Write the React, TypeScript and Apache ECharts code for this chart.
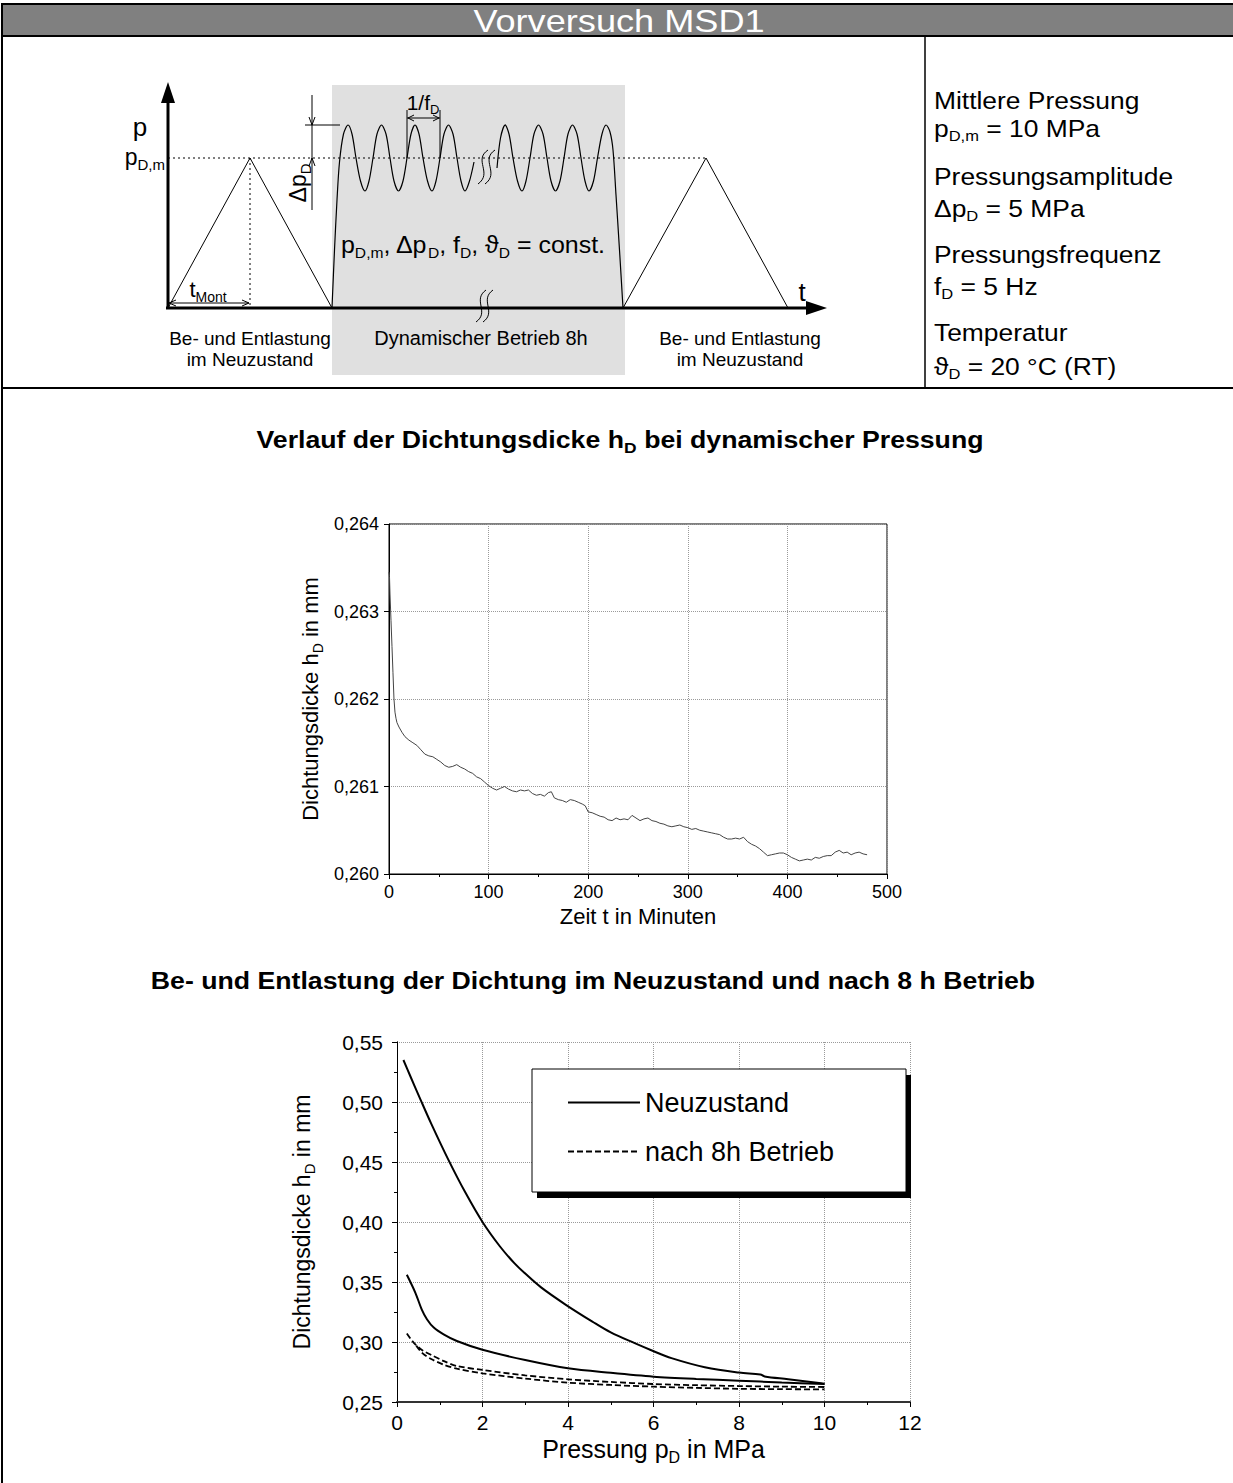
import React, { useEffect, useRef } from 'react';
import * as echarts from 'echarts';

const FONT = '"Liberation Sans", Arial, Helvetica, sans-serif';

// ---------- Chart 1: Verlauf der Dichtungsdicke (time in minutes, thickness in mm)
const timeMin = [0, 0.5, 1, 2, 3, 4, 5, 6, 7, 8, 10, 13, 16, 20, 24, 28, 32, 36, 40, 44, 48, 52, 56, 60, 64, 68, 72, 76, 80, 84, 88, 92, 96, 100, 104, 108, 112, 116, 120, 124, 128, 132, 136, 140, 144, 148, 152, 156, 160, 163, 166, 170, 174, 178, 182, 186, 190, 194, 197, 200, 204, 208, 212, 216, 220, 224, 228, 232, 236, 240, 244, 248, 252, 256, 260, 264, 268, 272, 276, 280, 284, 288, 292, 296, 300, 304, 308, 312, 316, 320, 324, 328, 332, 336, 340, 344, 348, 352, 356, 360, 364, 368, 372, 376, 380, 384, 388, 392, 396, 400, 404, 408, 412, 416, 420, 424, 428, 432, 436, 440, 444, 448, 452, 456, 460, 464, 468, 472, 476, 480];
const thicknessDyn = [0.26345, 0.2634, 0.2632, 0.2629, 0.2626, 0.2623, 0.262, 0.26185, 0.26178, 0.26173, 0.26168, 0.26162, 0.26157, 0.26153, 0.2615, 0.26147, 0.26142, 0.26137, 0.26135, 0.26134, 0.26131, 0.26128, 0.26124, 0.26122, 0.26123, 0.26125, 0.26122, 0.2612, 0.26117, 0.26115, 0.26111, 0.26109, 0.26105, 0.26101, 0.26098, 0.26096, 0.26098, 0.261, 0.26097, 0.26095, 0.26094, 0.26096, 0.26095, 0.26096, 0.26092, 0.2609, 0.26091, 0.26089, 0.26093, 0.26094, 0.26087, 0.26085, 0.26084, 0.26082, 0.26085, 0.26084, 0.26082, 0.2608, 0.26078, 0.26071, 0.2607, 0.26068, 0.26066, 0.26065, 0.26062, 0.26061, 0.26064, 0.26062, 0.26063, 0.26062, 0.26067, 0.26064, 0.26061, 0.26063, 0.26064, 0.26061, 0.2606, 0.26058, 0.26057, 0.26055, 0.26054, 0.26055, 0.26056, 0.26054, 0.26053, 0.26051, 0.26052, 0.2605, 0.26049, 0.26048, 0.26047, 0.26046, 0.26045, 0.26042, 0.2604, 0.2604, 0.26041, 0.2604, 0.26042, 0.26037, 0.26034, 0.26032, 0.26029, 0.26025, 0.26021, 0.26022, 0.26023, 0.26024, 0.26024, 0.26022, 0.26019, 0.26017, 0.26015, 0.26016, 0.26017, 0.26016, 0.26019, 0.26018, 0.2602, 0.26021, 0.26021, 0.26025, 0.26027, 0.26024, 0.26025, 0.26022, 0.26024, 0.26025, 0.26023, 0.26022];

// ---------- Chart 2: Be- und Entlastung (pressure in MPa, thickness in mm)
const newLoadP = [0.15, 0.3, 0.55, 0.8, 1.2, 1.6, 2.0, 2.4, 2.75, 3.0, 3.37, 3.95, 4.57, 5.0, 5.56, 5.99, 6.42, 7.2, 8.0, 8.5, 8.6, 9.15, 9.92, 10.0];
const newLoadH = [0.535, 0.5225, 0.502, 0.482, 0.452, 0.4245, 0.4, 0.38, 0.3655, 0.357, 0.3455, 0.331, 0.317, 0.308, 0.299, 0.2925, 0.2866, 0.279, 0.2745, 0.273, 0.2713, 0.269, 0.2656, 0.2652];
const newUnloadP = [0.23, 0.43, 0.58, 0.7, 0.86, 1.09, 1.4, 2.0, 3.0, 4.0, 5.0, 6.0, 7.0, 8.0, 9.0, 10.0];
const newUnloadH = [0.356, 0.341, 0.327, 0.319, 0.312, 0.3064, 0.3008, 0.2935, 0.285, 0.2781, 0.2743, 0.2711, 0.2692, 0.2678, 0.2662, 0.265];
const oldLoadP = [0.23, 0.4, 0.6, 0.8, 1.1, 1.4, 2.0, 3.0, 4.0, 5.0, 6.0, 7.0, 8.0, 9.0, 10.0];
const oldLoadH = [0.307, 0.299, 0.293, 0.2892, 0.284, 0.28, 0.2767, 0.2722, 0.2689, 0.2667, 0.265, 0.264, 0.2633, 0.2628, 0.2625];
const oldUnloadP = [0.45, 0.6, 0.8, 1.1, 1.4, 2.0, 3.0, 4.0, 5.0, 6.0, 7.0, 8.0, 9.0, 10.0];
const oldUnloadH = [0.297, 0.2905, 0.2858, 0.281, 0.2778, 0.2739, 0.2695, 0.2661, 0.2642, 0.2628, 0.2618, 0.261, 0.2607, 0.2605];

const legendNames = ['Neuzustand', 'nach 8h Betrieb'];

const paramLines = [
  'Mittlere Pressung',
  '{n|p}{s|D,m}{n| = 10 MPa}',
  'Pressungsamplitude',
  '{n|Δp}{s|D}{n| = 5 MPa}',
  'Pressungsfrequenz',
  '{n|f}{s|D}{n| = 5 Hz}',
  'Temperatur',
  '{n|ϑ}{s|D}{n| = 20 °C (RT)}',
];

const pairs = (xs: number[], ys: number[]) => xs.map((x, i) => [x, ys[i]]);
const comma = (d: number) => (v: number) => v.toFixed(d).replace('.', ',');

function rt(x: number, y: number, text: string, size: number, opt: any = {}) {
  const sub = Math.round(size * 0.64);
  const fill = opt.fill || '#000';
  const fw = opt.bold ? 'bold' : 'normal';
  return {
    type: 'text',
    x,
    y,
    rotation: opt.rotation || 0,
    scaleX: opt.sx || 1,
    z: opt.z ?? 6,
    style: {
      text,
      x: 0,
      y: 0,
      fill,
      fontSize: size,
      fontFamily: FONT,
      fontWeight: fw,
      align: opt.align || 'left',
      verticalAlign: 'middle',
      rich: {
        n: { fontSize: size, fontFamily: FONT, fontWeight: fw, lineHeight: Math.round(size * 1.3), fill },
        s: { fontSize: sub, fontFamily: FONT, fontWeight: fw, lineHeight: sub, verticalAlign: 'bottom', fill },
      },
    },
  };
}

function axisRich(size: number) {
  const sub = Math.round(size * 0.64);
  return {
    n: { fontSize: size, fontFamily: FONT, lineHeight: Math.round(size * 1.3), color: '#000' },
    s: { fontSize: sub, fontFamily: FONT, lineHeight: sub, verticalAlign: 'bottom', color: '#000' },
  };
}

const ln = (x1: number, y1: number, x2: number, y2: number, w = 1, dash?: number[], z = 4) => ({
  type: 'line', z, shape: { x1, y1, x2, y2 }, style: { stroke: '#000', lineWidth: w, lineDash: dash || null },
});
const pl = (points: number[][], w = 1, smooth = 0, z = 4) => ({
  type: 'polyline', z, shape: { points, smooth }, style: { stroke: '#000', lineWidth: w, fill: null },
});
const bz = (x1: number, y1: number, x2: number, y2: number, c1x: number, c1y: number, c2x: number, c2y: number) => ({
  type: 'bezierCurve', z: 5,
  shape: { x1, y1, x2, y2, cpx1: c1x, cpy1: c1y, cpx2: c2x, cpy2: c2y },
  style: { stroke: '#000', lineWidth: 1, fill: null },
});

function buildGraphic() {
  const els: any[] = [];
  // table frame
  els.push({ type: 'rect', z: 1, shape: { x: 2, y: 4, width: 1240, height: 32 }, style: { fill: '#808080', stroke: '#000', lineWidth: 2 } });
  els.push(ln(2, 4, 2, 1490, 2));
  els.push(ln(925, 36, 925, 388, 1.5));
  els.push(ln(2, 388, 1240, 388, 2));
  els.push(rt(619, 21, 'Vorversuch MSD1', 32, { align: 'center', fill: '#fff', sx: 1.13 }));

  // schematic diagram
  els.push({ type: 'rect', z: 1, shape: { x: 332, y: 85, width: 293, height: 290 }, style: { fill: '#e0e0e0' } });
  els.push(ln(168, 158, 706, 158, 1, [2, 3], 3));
  els.push(ln(250, 158, 250, 306, 1, [2, 3], 3));
  els.push(pl([[168, 308], [250, 158], [332, 308]]));
  els.push(pl([[623, 308], [706, 158], [788, 308]]));
  const waveL = [[332, 308], [334.5, 250], [337, 200], [339.5, 162], [343.5, 134], [348, 125], [352, 134], [356, 158], [360.5, 181], [365, 191], [369, 181], [373, 158], [377, 134], [381.5, 125], [386, 134], [390, 158], [394, 181], [398.5, 191], [403, 181], [407, 158], [411, 134], [415, 125], [419, 134], [423, 158], [427.5, 181], [432, 191], [436, 181], [440, 158], [444, 134], [448.5, 125], [453, 134], [457, 158], [461, 181], [465, 191], [469.5, 181], [474, 162]];
  const waveR = [[497, 168], [500.5, 138], [505, 125], [509, 134], [513, 158], [517.5, 181], [522, 191], [526, 181], [530, 158], [534, 134], [538.5, 125], [543, 134], [547, 158], [551, 181], [555.5, 191], [560, 181], [564, 158], [568, 134], [572.5, 125], [577, 134], [581, 158], [585, 181], [589, 191], [593.5, 181], [597.5, 158], [602, 134], [606, 125], [610, 132], [613, 150], [616, 195], [619.5, 250], [623, 308]];
  els.push(pl(waveL, 1.2, 0.3));
  els.push(pl(waveR, 1.2, 0.3));
  // breaks
  els.push(bz(478, 184, 488, 150, 493, 173, 473, 160));
  els.push(bz(485, 184, 495, 150, 500, 173, 480, 160));
  els.push(bz(476, 322, 486, 290, 490, 312, 472, 300));
  els.push(bz(483, 322, 493, 290, 497, 312, 479, 300));
  // axes
  els.push(ln(168, 309, 168, 100, 3));
  els.push({ type: 'polygon', z: 5, shape: { points: [[168, 82], [161, 103], [175, 103]] }, style: { fill: '#000' } });
  els.push(ln(166, 308, 808, 308, 3));
  els.push({ type: 'polygon', z: 5, shape: { points: [[827, 308], [806, 301], [806, 315]] }, style: { fill: '#000' } });
  // t_Mont arrow
  els.push(ln(169, 303, 249, 303));
  els.push(pl([[176, 300], [169, 303], [176, 306]]));
  els.push(pl([[242, 300], [249, 303], [242, 306]]));
  // delta p
  els.push(ln(312, 95, 312, 210));
  els.push(ln(305, 125, 340, 125));
  els.push(pl([[309, 117], [312, 125], [315, 117]]));
  els.push(pl([[309, 166], [312, 158], [315, 166]]));
  // 1/f
  els.push(ln(407, 110, 407, 158));
  els.push(ln(440, 110, 440, 158));
  els.push(ln(407, 118, 440, 118));
  els.push(pl([[414, 115], [408, 118], [414, 121]]));
  els.push(pl([[433, 115], [439, 118], [433, 121]]));
  // labels
  els.push(rt(140, 127, 'p', 26, { align: 'center' }));
  els.push(rt(165, 157, '{n|p}{s|D,m}', 23, { align: 'right' }));
  els.push(rt(208, 289, '{n|t}{s|Mont}', 22, { align: 'center' }));
  els.push(rt(298, 183, '{n|Δp}{s|D}', 23, { align: 'center', rotation: Math.PI / 2 }));
  els.push(rt(423, 102, '{n|1/f}{s|D}', 21, { align: 'center' }));
  els.push(rt(341, 245, '{n|p}{s|D,m}{n|, Δp}{s|D}{n|, f}{s|D}{n|, ϑ}{s|D}{n| = const.}', 24, { sx: 1.04 }));
  els.push(rt(802, 292, 't', 26, { align: 'center' }));
  els.push(rt(250, 338, 'Be- und Entlastung', 19, { align: 'center' }));
  els.push(rt(250, 359, 'im Neuzustand', 19, { align: 'center' }));
  els.push(rt(481, 338, 'Dynamischer Betrieb 8h', 20, { align: 'center' }));
  els.push(rt(740, 338, 'Be- und Entlastung', 19, { align: 'center' }));
  els.push(rt(740, 359, 'im Neuzustand', 19, { align: 'center' }));

  // parameter panel
  const py = [100, 128, 176, 208, 254, 286, 332, 366];
  paramLines.forEach((t, i) => els.push(rt(934, py[i], t, 24, { sx: 1.1 })));

  // section titles
  els.push(rt(620, 440, '{n|Verlauf der Dichtungsdicke h}{s|D}{n| bei dynamischer Pressung}', 23, { align: 'center', bold: true, sx: 1.16 }));
  els.push(rt(593, 981, 'Be- und Entlastung der Dichtung im Neuzustand und nach 8 h Betrieb', 23, { align: 'center', bold: true, sx: 1.16 }));

  // legend box with shadow (chart 2)
  els.push({ type: 'rect', z: 5, shape: { x: 537, y: 1075, width: 374, height: 123 }, style: { fill: '#000' } });
  els.push({ type: 'rect', z: 6, shape: { x: 532, y: 1069, width: 374, height: 123 }, style: { fill: '#fff', stroke: '#000', lineWidth: 1 } });
  return els;
}

export default function App() {
  const ref = useRef<HTMLDivElement>(null);
  useEffect(() => {
    document.body.style.margin = '0';
    const chart = echarts.init(ref.current!, null, { renderer: 'svg' });
    const gridLine = { show: true, lineStyle: { type: 'dotted', color: '#9a9a9a', width: 1 } };
    const axisBase = {
      axisLine: { show: true, onZero: false, lineStyle: { color: '#000', width: 1 } },
      axisTick: { show: true, inside: false, length: 5, lineStyle: { color: '#000' } },
      minorTick: { show: true, splitNumber: 2, length: 3, lineStyle: { color: '#000' } },
      splitLine: gridLine,
    };
    const option: any = {
      animation: false,
      textStyle: { fontFamily: FONT },
      graphic: { elements: buildGraphic() },
      grid: [
        { left: 389, top: 524, width: 498, height: 350, show: true, borderColor: '#000', borderWidth: 1, backgroundColor: 'transparent', outerBoundsMode: 'none' },
        { left: 397, top: 1042, width: 513, height: 360, outerBoundsMode: 'none' },
      ],
      xAxis: [
        {
          ...axisBase, gridIndex: 0, type: 'value', min: 0, max: 500, interval: 100,
          name: 'Zeit t in Minuten', nameLocation: 'middle', nameGap: 31,
          nameTextStyle: { fontSize: 22, color: '#000', fontFamily: FONT },
          axisLabel: { color: '#000', fontSize: 18, margin: 9, fontFamily: FONT },
        },
        {
          ...axisBase, gridIndex: 1, type: 'value', min: 0, max: 12, interval: 2,
          axisLine: { show: true, onZero: false, lineStyle: { color: '#333', width: 2 } },
          name: '{n|Pressung p}{s|D}{n| in MPa}', nameLocation: 'middle', nameGap: 30,
          nameTextStyle: { fontSize: 25, color: '#000', fontFamily: FONT, rich: axisRich(25) },
          axisLabel: { color: '#000', fontSize: 21, margin: 10, fontFamily: FONT },
        },
      ],
      yAxis: [
        {
          ...axisBase, gridIndex: 0, type: 'value', min: 0.26, max: 0.264, interval: 0.001,
          minorTick: { show: false },
          name: '{n|Dichtungsdicke h}{s|D}{n| in mm}', nameLocation: 'middle', nameGap: 64, nameRotate: 90,
          nameTextStyle: { fontSize: 22, color: '#000', fontFamily: FONT, rich: axisRich(22) },
          axisLabel: { color: '#000', fontSize: 18, margin: 10, fontFamily: FONT, formatter: comma(3) },
        },
        {
          ...axisBase, gridIndex: 1, type: 'value', min: 0.25, max: 0.55, interval: 0.05,
          name: '{n|Dichtungsdicke h}{s|D}{n| in mm}', nameLocation: 'middle', nameGap: 80, nameRotate: 90,
          nameTextStyle: { fontSize: 23, color: '#000', fontFamily: FONT, rich: axisRich(23) },
          axisLabel: { color: '#000', fontSize: 21, margin: 14, fontFamily: FONT, formatter: comma(2) },
        },
        {
          gridIndex: 1, type: 'value', position: 'right', min: 0.25, max: 0.55, interval: 0.05,
          axisLine: { show: true, lineStyle: { color: '#000', width: 1 } },
          axisTick: { show: false }, axisLabel: { show: false }, splitLine: { show: false },
        },
      ],
      legend: {
        data: legendNames, selectedMode: false, orient: 'vertical', left: 562, top: 1084,
        itemWidth: 72, itemHeight: 12, itemGap: 22, z: 10,
        itemStyle: { opacity: 0 },
        textStyle: { fontSize: 27, color: '#000', fontFamily: FONT },
      },
      series: [
        {
          type: 'line', xAxisIndex: 0, yAxisIndex: 0, data: pairs(timeMin, thicknessDyn),
          symbol: 'none', showSymbol: false, lineStyle: { color: '#444', width: 1 }, z: 3,
        },
        {
          name: legendNames[0], type: 'line', xAxisIndex: 1, yAxisIndex: 1, data: pairs(newLoadP, newLoadH),
          symbol: 'none', showSymbol: false, smooth: 0.35, color: '#000', lineStyle: { color: '#000', width: 2 }, z: 3,
        },
        {
          name: legendNames[0], type: 'line', xAxisIndex: 1, yAxisIndex: 1, data: pairs(newUnloadP, newUnloadH),
          symbol: 'none', showSymbol: false, smooth: 0.3, color: '#000', lineStyle: { color: '#000', width: 2 }, z: 3,
        },
        {
          name: legendNames[1], type: 'line', xAxisIndex: 1, yAxisIndex: 1, data: pairs(oldLoadP, oldLoadH),
          symbol: 'none', showSymbol: false, smooth: 0.3, color: '#000', lineStyle: { color: '#000', width: 1.8, type: [6, 3] }, z: 3,
        },
        {
          name: legendNames[1], type: 'line', xAxisIndex: 1, yAxisIndex: 1, data: pairs(oldUnloadP, oldUnloadH),
          symbol: 'none', showSymbol: false, smooth: 0.3, color: '#000', lineStyle: { color: '#000', width: 1.8, type: [6, 3] }, z: 3,
        },
      ],
    };
    chart.setOption(option);
    return () => chart.dispose();
  }, []);
  return <div ref={ref} style={{ width: 1233, height: 1483, position: 'absolute', left: 0, top: 0, background: '#fff' }} />;
}
